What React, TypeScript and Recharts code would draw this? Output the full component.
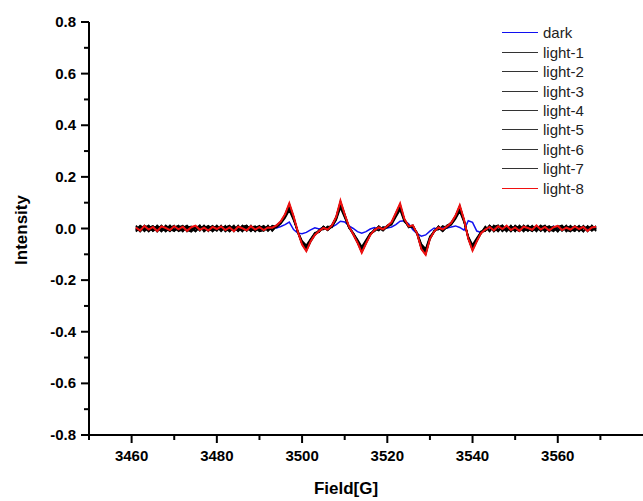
import { LineChart, Line, XAxis, YAxis } from "recharts";

// magnetic field, G
const field = [
  3461, 3462, 3463, 3464, 3465, 3466, 3467, 3468, 3469, 3470,
  3471, 3472, 3473, 3474, 3475, 3476, 3477, 3478, 3479, 3480,
  3481, 3482, 3483, 3484, 3485, 3486, 3487, 3488, 3489, 3490,
  3491, 3492, 3493, 3494, 3495, 3496, 3497, 3498, 3499, 3500,
  3501, 3502, 3503, 3504, 3505, 3506, 3507, 3508, 3509, 3510,
  3511, 3512, 3513, 3514, 3515, 3516, 3517, 3518, 3519, 3520,
  3521, 3522, 3523, 3524, 3525, 3526, 3527, 3528, 3529, 3530,
  3531, 3532, 3533, 3534, 3535, 3536, 3537, 3538, 3539, 3540,
  3541, 3542, 3543, 3544, 3545, 3546, 3547, 3548, 3549, 3550,
  3551, 3552, 3553, 3554, 3555, 3556, 3557, 3558, 3559, 3560,
  3561, 3562, 3563, 3564, 3565, 3566, 3567, 3568, 3569,
];

const dark = [
  -0.003, 0.005, -0.006, 0.002, 0.007, -0.004, 0.001, -0.007, 0.004, 0.003,
  -0.005, 0.006, -0.002, -0.006, 0.004, 0.008, -0.003, 0.002, -0.007, 0.005,
  0.001, -0.004, 0.006, -0.002, -0.008, 0.003, 0.005, -0.004, 0.002, -0.006,
  0.004, -0.003, 0.006, 0.002, 0.008, 0.015, 0.025, -0.004, -0.018, -0.02,
  -0.015, -0.005, 0.003, -0.002, 0.004, 0.0, 0.006, 0.015, 0.028, 0.025,
  0.01, 0.0, -0.012, -0.018, -0.012, -0.002, 0.004, -0.003, 0.005, 0.002,
  0.006, 0.015, 0.028, 0.03, 0.018, -0.005, -0.02, -0.03, -0.025, -0.01,
  0.002, -0.004, 0.005, 0.002, 0.006, 0.01, 0.004, -0.006, 0.03, 0.024,
  -0.01, -0.015, -0.005, 0.003, -0.004, 0.006, 0.001, -0.005, 0.007, 0.002,
  -0.004, 0.005, -0.006, 0.003, 0.008, -0.002, 0.004, -0.005, 0.009, -0.003,
  0.004, -0.006, 0.002, 0.005, -0.003, 0.006, -0.002, 0.003, 0.005,
];

const light1 = [
  -0.01, 0.006, -0.004, 0.012, -0.007, 0.003, -0.012, 0.008, 0.005, -0.009,
  0.01, -0.006, 0.002, -0.011, 0.006, -0.003, 0.012, -0.007, 0.004, 0.009,
  -0.008, 0.011, -0.012, 0.003, -0.005, 0.01, 0.004, -0.011, 0.007, -0.003,
  0.008, -0.01, 0.006, 0.004, 0.018, 0.04, 0.07, 0.032, -0.012, -0.048,
  -0.065, -0.04, -0.016, -0.012, 0.008, -0.006, 0.006, 0.032, 0.08, 0.042,
  0.004, -0.018, -0.042, -0.07, -0.044, -0.018, -0.01, 0.008, -0.006, 0.011,
  0.014, 0.044, 0.072, 0.026, 0.01, 0.004, -0.016, -0.06, -0.078, -0.03,
  -0.014, 0.009, -0.008, 0.012, 0.014, 0.036, 0.066, 0.024, -0.03, -0.063,
  -0.036, -0.012, -0.009, 0.01, -0.012, 0.004, 0.013, -0.008, 0.002, -0.011,
  0.008, -0.004, 0.012, -0.01, 0.003, 0.009, -0.013, 0.006, -0.002, 0.011,
  -0.008, 0.01, -0.003, -0.011, 0.007, 0.002, -0.009, 0.012, -0.004,
];

const light2 = [
  0.008, -0.012, 0.003, 0.007, -0.009, 0.012, -0.002, -0.01, 0.011, -0.005,
  0.004, -0.012, 0.009, 0.001, -0.008, 0.013, -0.01, 0.006, -0.004, 0.008,
  -0.011, 0.005, 0.01, -0.007, 0.012, -0.009, 0.002, 0.006, -0.012, 0.009,
  -0.004, 0.01, -0.008, 0.01, 0.022, 0.044, 0.078, 0.036, -0.01, -0.052,
  -0.072, -0.042, -0.022, -0.006, -0.004, 0.008, 0.004, 0.036, 0.088, 0.046,
  0.002, -0.016, -0.046, -0.076, -0.048, -0.022, -0.002, -0.008, 0.006, 0.004,
  0.018, 0.048, 0.078, 0.03, 0.006, 0.009, -0.018, -0.064, -0.084, -0.034,
  -0.008, -0.004, 0.01, 0.002, 0.016, 0.04, 0.072, 0.028, -0.032, -0.07,
  -0.04, -0.016, 0.008, -0.01, 0.012, -0.006, 0.004, -0.012, 0.01, -0.003,
  -0.011, 0.004, 0.01, -0.007, -0.002, 0.012, -0.009, 0.003, 0.008, -0.012,
  0.006, -0.004, 0.011, -0.008, 0.003, -0.012, 0.009, -0.002, 0.005,
];

const light3 = [
  -0.005, 0.009, -0.011, 0.004, 0.01, -0.006, 0.012, -0.004, -0.009, 0.006,
  -0.009, 0.003, 0.012, -0.004, -0.01, 0.007, 0.002, 0.011, -0.012, 0.003,
  0.006, -0.01, -0.002, 0.012, -0.011, 0.004, 0.01, -0.006, 0.003, 0.011,
  -0.01, 0.002, 0.009, 0.006, 0.024, 0.046, 0.082, 0.04, -0.016, -0.054,
  -0.075, -0.044, -0.018, -0.014, 0.006, -0.008, 0.01, 0.038, 0.092, 0.048,
  0.006, -0.02, -0.048, -0.08, -0.05, -0.02, -0.01, 0.009, -0.008, 0.006,
  0.02, 0.05, 0.082, 0.034, 0.004, 0.01, -0.02, -0.068, -0.088, -0.036,
  -0.01, 0.006, -0.01, 0.006, 0.02, 0.042, 0.076, 0.03, -0.034, -0.073,
  -0.044, -0.01, -0.008, 0.011, -0.004, 0.012, -0.011, 0.005, -0.007, 0.01,
  0.003, -0.012, 0.008, 0.004, -0.01, 0.006, 0.011, -0.005, -0.01, 0.007,
  0.012, -0.007, 0.002, 0.009, -0.011, 0.004, 0.006, -0.01, 0.003,
];

const light4 = [
  0.011, -0.004, 0.006, -0.012, 0.003, 0.008, -0.007, 0.012, -0.002, -0.011,
  0.006, 0.01, -0.006, -0.013, 0.003, -0.002, 0.008, -0.011, 0.01, -0.006,
  0.003, 0.008, -0.009, 0.006, 0.002, -0.012, 0.011, -0.003, -0.008, 0.007,
  0.005, -0.008, 0.011, 0.008, 0.02, 0.048, 0.086, 0.04, -0.014, -0.055,
  -0.079, -0.046, -0.02, -0.012, 0.006, -0.002, 0.01, 0.04, 0.096, 0.05,
  0.004, -0.02, -0.05, -0.084, -0.052, -0.02, -0.008, 0.006, -0.004, 0.012,
  0.02, 0.054, 0.086, 0.032, 0.01, 0.006, -0.018, -0.072, -0.092, -0.036,
  -0.014, 0.006, -0.006, 0.01, 0.018, 0.044, 0.08, 0.03, -0.036, -0.077,
  -0.044, -0.016, -0.006, 0.009, -0.011, 0.003, 0.012, -0.009, 0.006, -0.004,
  0.01, -0.007, -0.003, 0.011, -0.008, 0.002, 0.009, -0.012, 0.004, 0.007,
  -0.01, 0.005, 0.008, -0.004, 0.011, -0.009, 0.003, 0.007, -0.011,
];

const light5 = [
  -0.007, 0.012, 0.001, -0.009, 0.009, -0.013, 0.005, 0.006, -0.011, 0.004,
  0.012, -0.01, 0.004, 0.008, -0.012, 0.005, -0.007, 0.01, 0.001, -0.01,
  0.01, -0.002, -0.011, 0.008, -0.006, 0.012, -0.01, 0.004, 0.009, -0.008,
  0.002, 0.007, -0.006, 0.013, 0.026, 0.05, 0.089, 0.044, -0.012, -0.058,
  -0.082, -0.048, -0.024, -0.008, 0.004, -0.006, 0.014, 0.042, 0.099, 0.052,
  0.008, -0.018, -0.052, -0.087, -0.054, -0.024, -0.004, 0.002, -0.006, 0.008,
  0.022, 0.056, 0.089, 0.036, 0.006, 0.011, -0.019, -0.074, -0.095, -0.038,
  -0.01, 0.002, -0.004, 0.012, 0.02, 0.046, 0.083, 0.032, -0.038, -0.08,
  -0.046, -0.02, 0.004, -0.008, 0.01, -0.012, 0.006, 0.008, -0.01, 0.012,
  -0.006, 0.011, -0.01, 0.005, 0.007, -0.011, 0.002, 0.01, -0.007, -0.002,
  0.009, -0.012, 0.004, 0.002, -0.008, 0.011, -0.005, -0.003, 0.01,
];

const light6 = [
  0.002, -0.011, 0.012, -0.002, -0.006, 0.01, -0.009, -0.003, 0.012, -0.008,
  -0.002, 0.011, -0.012, 0.003, 0.007, -0.009, 0.01, -0.004, -0.009, 0.012,
  -0.005, 0.003, 0.012, -0.012, 0.009, -0.004, -0.006, 0.012, -0.01, 0.002,
  0.011, -0.005, 0.002, 0.01, 0.024, 0.052, 0.092, 0.046, -0.016, -0.06,
  -0.084, -0.048, -0.022, -0.014, 0.008, -0.004, 0.01, 0.044, 0.102, 0.054,
  0.006, -0.022, -0.054, -0.09, -0.056, -0.022, -0.01, 0.008, -0.002, 0.006,
  0.024, 0.058, 0.091, 0.034, 0.012, 0.008, -0.022, -0.078, -0.098, -0.04,
  -0.012, 0.008, -0.008, 0.004, 0.022, 0.048, 0.086, 0.034, -0.038, -0.082,
  -0.048, -0.014, -0.01, 0.012, -0.003, -0.009, 0.01, -0.006, 0.012, -0.011,
  0.012, -0.002, -0.009, 0.008, -0.012, 0.01, -0.004, 0.006, -0.011, 0.009,
  -0.003, 0.012, -0.01, 0.006, 0.004, -0.012, 0.01, -0.006, 0.002,
];

const light7 = [
  -0.012, 0.003, 0.007, 0.01, -0.011, 0.001, 0.01, -0.012, 0.003, 0.012,
  -0.011, -0.004, 0.01, -0.009, 0.002, 0.012, -0.012, 0.001, 0.011, -0.007,
  0.012, -0.012, 0.007, 0.002, -0.01, 0.007, 0.012, -0.009, 0.001, -0.011,
  -0.008, 0.012, -0.01, 0.009, 0.027, 0.054, 0.095, 0.047, -0.013, -0.061,
  -0.086, -0.052, -0.026, -0.006, -0.002, 0.004, 0.012, 0.046, 0.105, 0.056,
  0.004, -0.024, -0.055, -0.092, -0.058, -0.026, -0.004, 0.002, -0.009, 0.011,
  0.023, 0.06, 0.094, 0.036, 0.008, 0.013, -0.021, -0.079, -0.1, -0.042,
  -0.01, 0.002, -0.011, 0.01, 0.024, 0.049, 0.088, 0.034, -0.04, -0.084,
  -0.049, -0.018, 0.006, -0.012, 0.008, 0.012, -0.01, 0.003, -0.012, 0.008,
  -0.01, 0.012, -0.002, -0.011, 0.01, -0.008, 0.012, -0.01, 0.002, -0.012,
  0.011, -0.006, -0.012, 0.01, -0.004, 0.008, -0.012, 0.011, -0.008,
];

const light8 = [
  0.004, -0.008, 0.01, -0.004, 0.006, -0.01, 0.008, 0.002, -0.006, 0.009,
  -0.003, 0.007, -0.009, 0.005, 0.011, -0.005, 0.003, -0.008, 0.006, -0.002,
  0.008, -0.006, 0.004, -0.01, 0.007, 0.001, -0.007, 0.009, -0.004, 0.005,
  -0.006, 0.004, 0.003, 0.012, 0.028, 0.055, 0.098, 0.048, -0.012, -0.062,
  -0.088, -0.05, -0.025, -0.01, 0.002, -0.004, 0.012, 0.045, 0.108, 0.055,
  0.008, -0.022, -0.055, -0.094, -0.058, -0.025, -0.006, 0.004, -0.003, 0.01,
  0.025, 0.06, 0.097, 0.038, 0.008, 0.012, -0.02, -0.08, -0.102, -0.04,
  -0.012, 0.004, -0.003, 0.008, 0.022, 0.05, 0.09, 0.035, -0.04, -0.086,
  -0.05, -0.018, -0.004, 0.006, -0.007, 0.009, -0.002, 0.011, -0.006, 0.004,
  -0.009, 0.007, 0.002, -0.005, 0.012, -0.004, 0.006, -0.008, 0.005, 0.01,
  -0.006, 0.003, -0.004, 0.008, -0.002, 0.006, -0.009, 0.004, 0.007,
];

const xTicks = [3450, 3460, 3470, 3480, 3490, 3500, 3510, 3520, 3530, 3540, 3550, 3560, 3570];
const xLabels = [3460, 3480, 3500, 3520, 3540, 3560];
const yTicks = [-0.8, -0.7, -0.6, -0.5, -0.4, -0.3, -0.2, -0.1, 0, 0.1, 0.2, 0.3, 0.4, 0.5, 0.6, 0.7, 0.8];

const series = [
  { key: "dark", label: "dark", color: "#1010f0", width: 1.5 },
  { key: "light1", label: "light-1", color: "#000", width: 1.5 },
  { key: "light2", label: "light-2", color: "#000", width: 1.5 },
  { key: "light3", label: "light-3", color: "#000", width: 1.5 },
  { key: "light4", label: "light-4", color: "#000", width: 1.5 },
  { key: "light5", label: "light-5", color: "#000", width: 1.5 },
  { key: "light6", label: "light-6", color: "#000", width: 1.5 },
  { key: "light7", label: "light-7", color: "#000", width: 1.5 },
  { key: "light8", label: "light-8", color: "#f01010", width: 2 },
];

const data = field.map((f, i) => ({
  field: f,
  dark: dark[i],
  light1: light1[i],
  light2: light2[i],
  light3: light3[i],
  light4: light4[i],
  light5: light5[i],
  light6: light6[i],
  light7: light7[i],
  light8: light8[i],
}));

const FONT = '"Liberation Sans", Arial, Helvetica, sans-serif';

function XTick(props: any) {
  const { x, y, payload } = props;
  const major = xLabels.includes(payload.value);
  return (
    <g>
      <line x1={x} x2={x} y1={y} y2={y + (major ? 8 : 5)} stroke="#000" strokeWidth={2} />
      {major && (
        <text x={x} y={y + 26} textAnchor="middle" fontSize={15} fontWeight="bold" fontFamily={FONT} fill="#000">
          {payload.value}
        </text>
      )}
    </g>
  );
}

function YTick(props: any) {
  const { x, y, payload } = props;
  const v = payload.value;
  const major = Math.abs(Math.round(v * 10)) % 2 === 0;
  return (
    <g>
      <line x1={x} x2={x - (major ? 8 : 5)} y1={y} y2={y} stroke="#000" strokeWidth={2} />
      {major && (
        <text x={x - 13} y={y + 5} textAnchor="end" fontSize={15} fontWeight="bold" fontFamily={FONT} fill="#000">
          {v.toFixed(1)}
        </text>
      )}
    </g>
  );
}

export default function App() {
  return (
    <div style={{ position: "absolute", left: 0, top: 0, width: 643, height: 501, background: "#fff", overflow: "hidden" }}>
      <LineChart width={643} height={501} data={data} margin={{ top: 22, right: 0, bottom: 0, left: 0 }}>
        <XAxis
          dataKey="field"
          type="number"
          domain={[3450, 3580]}
          ticks={xTicks}
          interval={0}
          tickSize={0}
          tickMargin={0}
          height={66}
          tick={<XTick />}
          tickLine={false}
          axisLine={{ stroke: "#000", strokeWidth: 2 }}
          label={{
            content: () => (
              <text x={346} y={494} textAnchor="middle" fontSize={17} fontWeight="bold" fontFamily={FONT} fill="#000">
                Field[G]
              </text>
            ),
          }}
        />
        <YAxis
          type="number"
          domain={[-0.8, 0.8]}
          ticks={yTicks}
          interval={0}
          tickSize={0}
          tickMargin={0}
          width={89}
          tick={<YTick />}
          tickLine={false}
          axisLine={{ stroke: "#000", strokeWidth: 2 }}
          label={{
            content: () => (
              <text
                x={21}
                y={230}
                transform="rotate(-90 21 230)"
                textAnchor="middle"
                dominantBaseline="central"
                fontSize={17}
                fontWeight="bold"
                fontFamily={FONT}
                fill="#000"
              >
                Intensity
              </text>
            ),
          }}
        />
        {series.map((s) => (
          <Line
            key={s.key}
            dataKey={s.key}
            name={s.label}
            stroke={s.color}
            strokeWidth={s.width}
            dot={false}
            activeDot={false}
            isAnimationActive={false}
            type="linear"
          />
        ))}
      </LineChart>

      {/* Legend */}
      <div style={{ position: "absolute", left: 502, top: 23, fontFamily: FONT, fontSize: 15, color: "#222" }}>
        {series.map((s) => (
          <div key={s.key} style={{ display: "flex", alignItems: "center", height: 19.45 }}>
            <span style={{ width: 36, height: 0, borderTop: `1.5px solid ${s.key === "dark" || s.key === "light8" ? s.color : "#333"}` }} />
            <span style={{ marginLeft: 5 }}>{s.label}</span>
          </div>
        ))}
      </div>
    </div>
  );
}
